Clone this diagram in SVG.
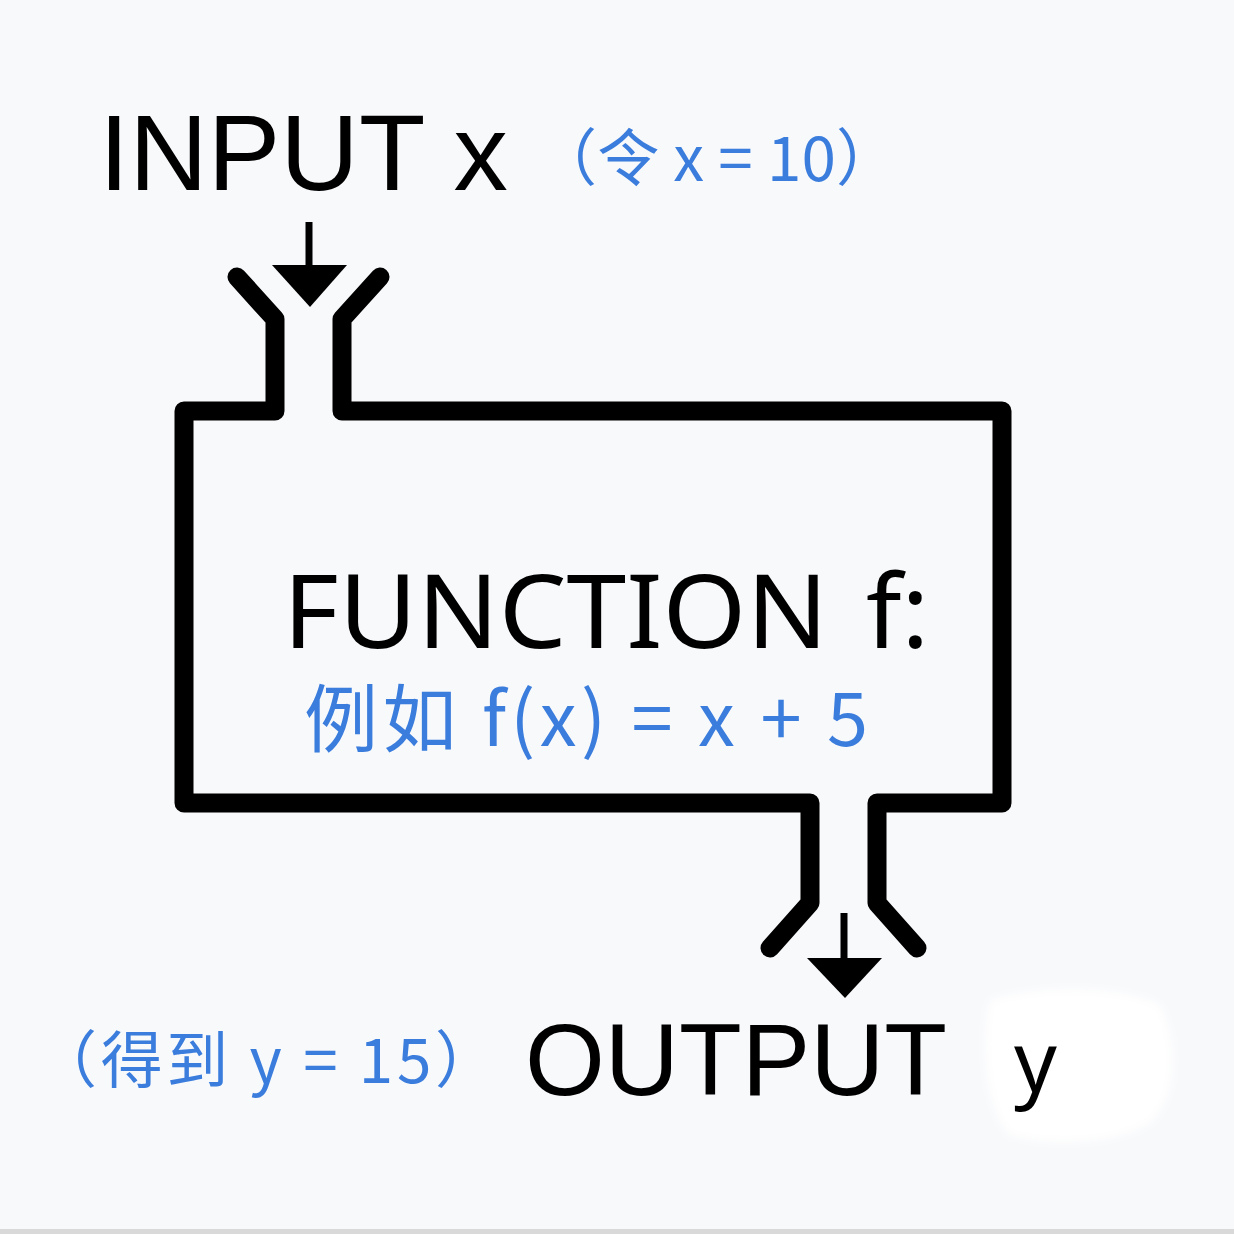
<svg xmlns="http://www.w3.org/2000/svg" width="1234" height="1234" viewBox="0 0 1234 1234">
  <defs>
    <style>
      .outline { fill: none; stroke: #000; stroke-width: 19; stroke-linejoin: round; stroke-linecap: round; }
      .shaft { fill: none; stroke: #000; stroke-width: 7; }
      .head { fill: #000; }
      .lat { font-family: "Liberation Sans", Arial, sans-serif; fill: #000; }
      .noto { font-family: "Noto Sans", "Open Sans", sans-serif; fill: #000; }
      .note { font-family: "Noto Sans CJK SC", "Noto Sans", sans-serif; fill: #3b7ddd; }
    </style>
    <filter id="soft" x="-20%" y="-20%" width="140%" height="140%">
      <feGaussianBlur stdDeviation="5"/>
    </filter>
  </defs>

  <rect x="0" y="0" width="1234" height="1234" fill="#f8f9fb"/>
  <rect x="0" y="1229" width="1234" height="5" fill="#d9d9d9"/>

  <g id="input">
    <text class="lat" x="99" y="190" font-size="108" textLength="409" lengthAdjust="spacingAndGlyphs">INPUT x</text>
    <text class="note" x="535" y="181" font-size="62" textLength="363" lengthAdjust="spacing">（令 x = 10）</text>
  </g>

  <g id="function">
    <path class="outline" d="M237 277 L275 319 L275 411 L184 411 L184 803 L810 803 L810 903 L770 948"/>
    <path class="outline" d="M380 277 L342 319 L342 411 L1002 411 L1002 803 L877 803 L877 903 L917 948"/>
    <text class="noto" x="283" y="648" font-size="103"><tspan textLength="545" lengthAdjust="spacingAndGlyphs">FUNCTION</tspan> <tspan x="866">f:</tspan></text>
    <text class="note" x="304" y="746" font-size="74" textLength="564" lengthAdjust="spacing">例如 f(x) = x + 5</text>
  </g>

  <g id="connectors">
    <line class="shaft" x1="309" y1="222" x2="309" y2="270"/>
    <polygon class="head" points="272,265 347,265 310,307"/>
    <line class="shaft" x1="844" y1="913" x2="844" y2="962"/>
    <polygon class="head" points="807,958 882,958 845,998"/>
  </g>

  <g id="output">
    <path d="M990 1000 C1040 985 1120 985 1160 1005 C1178 1040 1175 1090 1160 1110 C1150 1140 1060 1150 1010 1135 C985 1110 980 1040 990 1000 Z" fill="#ffffff" filter="url(#soft)"/>
    <text class="note" x="35" y="1083" font-size="62" textLength="462" lengthAdjust="spacing">（得到 y = 15）</text>
    <text class="lat" x="525" y="1095" font-size="102" textLength="422" lengthAdjust="spacingAndGlyphs">OUTPUT</text>
    <text class="noto" x="1014" y="1092" font-size="84">y</text>
  </g>
</svg>
